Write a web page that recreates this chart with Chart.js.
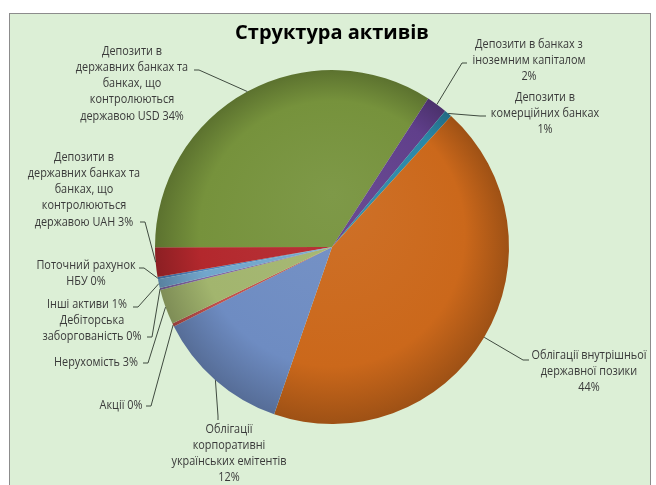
<!DOCTYPE html>
<html>
<head>
<meta charset="utf-8">
<script src="https://cdn.jsdelivr.net/npm/chart.js@4"></script>
<style>
  body { margin: 0; background: #fff; }
  #frame {
    position: absolute; left: 9px; top: 13px; width: 640px; height: 480px;
    background: #dcefd6; border: 1px solid #8c8c8c;
  }
  #chart { position: absolute; left: 0; top: 0; }
</style>
</head>
<body>
<div id="frame"></div>
<canvas id="chart" width="656" height="485"></canvas>
<script>
// slices, clockwise from the first one
const categories = [
  "Поточний рахунок НБУ",
  "Депозити в державних банках та банках, що контролюються державою UAH",
  "Депозити в державних банках та банках, що контролюються державою USD",
  "Депозити в банках з іноземним капіталом",
  "Депозити в комерційних банках",
  "Облігації внутрішньої державної позики",
  "Облігації корпоративні українських емітентів",
  "Акції",
  "Нерухомість",
  "Дебіторська заборгованість",
  "Інші активи",
];
const shares = [0.2, 2.7, 34.2, 1.9, 0.7, 43.6, 12.3, 0.3, 3.2, 0.2, 0.8];
const sliceColors = [
  "#4f81bd", "#b3282d", "#76923c", "#603f8b", "#2b88a8", "#cb681b",
  "#6e8cc2", "#c0504d", "#a2b56e", "#8064a2", "#72a6cc",
];

// label text as printed on the chart
const labelLines = [
  ["Поточний рахунок", "НБУ 0%"],
  ["Депозити в", "державних банках та", "банках, що", "контролюються", "державою UAH 3%"],
  ["Депозити в", "державних банках та", "банках, що", "контролюються", "державою USD 34%"],
  ["Депозити в банках з", "іноземним капіталом", "2%"],
  ["Депозити в", "комерційних банках", "1%"],
  ["Облігації внутрішньої", "державної позики", "44%"],
  ["Облігації", "корпоративні", "українських емітентів", "12%"],
  ["Акції 0%"],
  ["Нерухомість 3%"],
  ["Дебіторська", "заборгованість 0%"],
  ["Інші активи 1%"],
];

// where each label sits and where its leader starts
const labelLayout = [
  { x: 86, y: 265, leader: [[139, 268], [144, 268]] },
  { x: 84, y: 157, leader: [[140, 222], [145, 222]] },
  { x: 132, y: 51, leader: [[194, 70], [199, 70]] },
  { x: 529, y: 44, leader: [[467, 63], [462, 63]] },
  { x: 545, y: 97, leader: [[486, 116], [480, 116]] },
  { x: 589, y: 355, leader: [[529, 360], [523, 360]] },
  { x: 229, y: 429, leader: [[218, 420], [218, 416]] },
  { x: 121, y: 405, leader: [[146, 406], [151, 406]] },
  { x: 96, y: 362, leader: [[143, 363], [148, 363]] },
  { x: 92, y: 320, leader: [[147, 337], [152, 337]] },
  { x: 87, y: 304, leader: [[133, 307], [138, 307]] },
];

const labelFont = "12.5px 'Open Sans', 'Noto Sans', sans-serif";
const lineHeight = 16.3;
const squeeze = 0.87; // narrow the glyphs a little, the original face is condensed

function shade(hex, amt) {
  const n = parseInt(hex.slice(1), 16);
  let r = (n >> 16) & 255, g = (n >> 8) & 255, b = n & 255;
  const f = (c) => Math.max(0, Math.min(255, Math.round(amt < 0 ? c * (1 + amt) : c + (255 - c) * amt)));
  return `rgb(${f(r)}, ${f(g)}, ${f(b)})`;
}

const sliceLabels = {
  id: "sliceLabels",
  afterDatasetsDraw(chart) {
    const ctx = chart.ctx;
    const meta = chart.getDatasetMeta(0);
    ctx.save();
    ctx.font = labelFont;
    ctx.textAlign = "center";
    ctx.textBaseline = "middle";
    meta.data.forEach((arc, i) => {
      const spec = labelLayout[i];
      const mid = (arc.startAngle + arc.endAngle) / 2;
      const ax = arc.x + Math.cos(mid) * arc.outerRadius;
      const ay = arc.y + Math.sin(mid) * arc.outerRadius;

      // leader line
      ctx.strokeStyle = "#3f4a3f";
      ctx.lineWidth = 1;
      ctx.beginPath();
      ctx.moveTo(spec.leader[0][0], spec.leader[0][1]);
      spec.leader.slice(1).forEach((p) => ctx.lineTo(p[0], p[1]));
      ctx.lineTo(ax, ay);
      ctx.stroke();

      ctx.fillStyle = "#3a3a3a";
      labelLines[i].forEach((line, k) => {
        ctx.save();
        ctx.translate(spec.x, spec.y + k * lineHeight);
        ctx.scale(squeeze, 1);
        ctx.fillText(line, 0, 0);
        ctx.restore();
      });
    });
    ctx.restore();
  },
};

new Chart(document.getElementById("chart").getContext("2d"), {
  type: "pie",
  data: {
    labels: categories,
    datasets: [
      {
        data: shares,
        borderWidth: 0,
        backgroundColor: (context) => {
          const base = sliceColors[context.dataIndex];
          const area = context.chart.chartArea;
          if (!area) return base;
          const cx = (area.left + area.right) / 2;
          const cy = (area.top + area.bottom) / 2;
          const r = Math.min(area.width, area.height) / 2;
          const g = context.chart.ctx.createRadialGradient(cx, cy - r * 0.3, 0, cx, cy, r);
          g.addColorStop(0, shade(base, 0.06));
          g.addColorStop(0.75, base);
          g.addColorStop(1, shade(base, -0.22));
          return g;
        },
      },
    ],
  },
  options: {
    responsive: false,
    animation: false,
    rotation: 259.5,
    layout: {
      padding: { left: 100, right: 92, top: 0, bottom: 61 },
    },
    plugins: {
      legend: { display: false },
      tooltip: { enabled: false },
      title: {
        display: true,
        text: "Структура активів",
        color: "#000",
        font: { size: 20, weight: "bold", family: "'Open Sans', 'Noto Sans', sans-serif" },
        padding: { top: 21, bottom: 25 },
      },
    },
  },
  plugins: [sliceLabels],
});
</script>
</body>
</html>
